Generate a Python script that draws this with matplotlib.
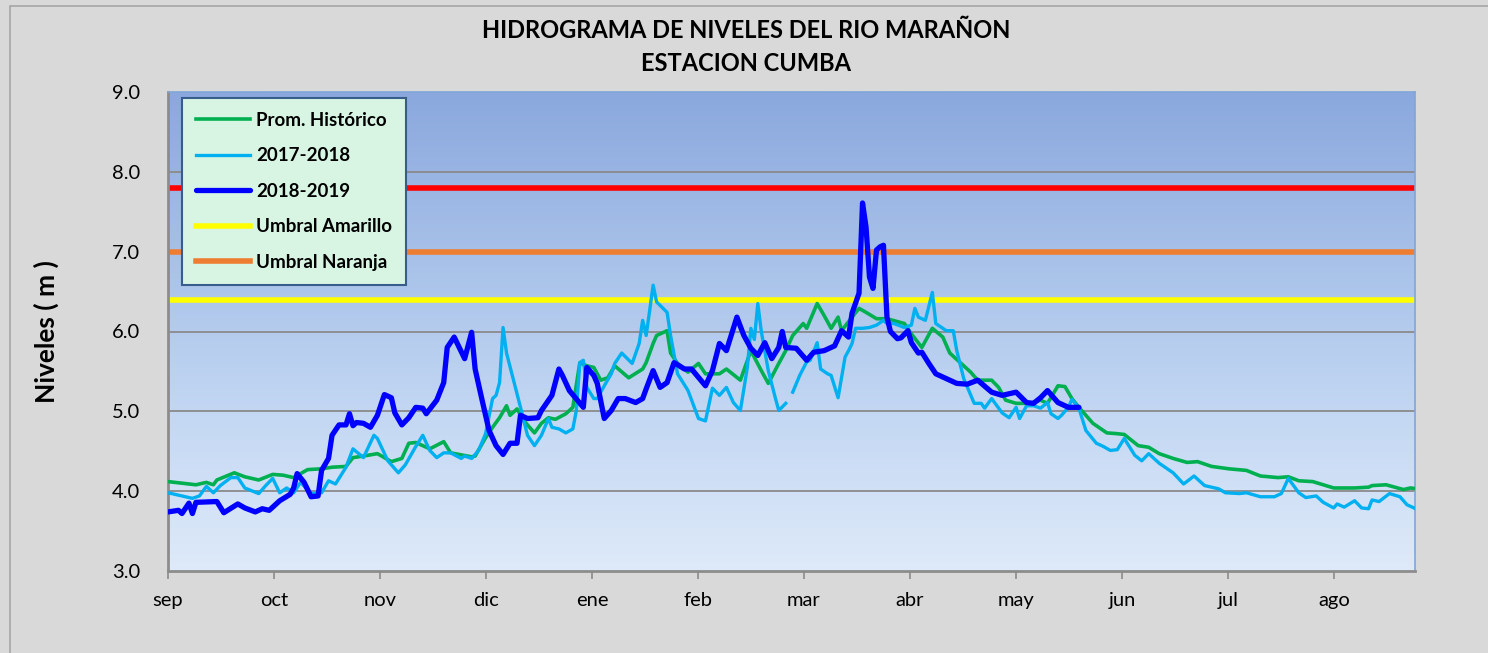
import matplotlib
matplotlib.use("Agg")
import matplotlib.pyplot as plt
import numpy as np
from matplotlib.colors import LinearSegmentedColormap
from matplotlib.patches import Rectangle

plt.rcParams['font.family'] = ['Lato', 'DejaVu Sans']

# meses del eje x (dias desde el 1 de septiembre, espaciado regular de Excel)
meses = ['sep', 'oct', 'nov', 'dic', 'ene', 'feb', 'mar', 'abr', 'may', 'jun', 'jul', 'ago']
mes_pos = [0, 30.4, 60.8, 91.1, 121.5, 151.9, 182.2, 212.6, 243.0, 273.4, 303.7, 334.1]

# Prom. Historico
hist_dias = [0, 8, 11, 13, 14, 19, 22, 26, 30, 33, 36, 40, 44, 47, 51, 53, 56, 60, 64, 67,
             69, 71, 75, 79, 81, 87, 88, 91, 93, 95, 97, 98, 100, 102, 105, 107, 109, 111, 114, 116,
             118, 120, 122, 124, 126, 128, 132, 136, 137, 139, 140, 143, 144, 146, 149, 152, 154, 158, 160, 164,
             167, 170, 172, 175, 177, 179, 182, 183, 186, 188, 190, 192, 193, 196, 198, 200, 203, 206, 211, 213,
             216, 219, 222, 224, 227, 230, 232, 236, 238, 240, 243, 247, 250, 252, 255, 257, 259, 261, 265, 269,
             272, 274, 278, 281, 284, 288, 292, 295, 299, 304, 309, 313, 318, 321, 324, 328, 334, 340, 344, 345,
             349, 354, 356, 358]
hist_niv = [4.12, 4.08, 4.11, 4.08, 4.14, 4.23, 4.18, 4.14, 4.21, 4.20, 4.17, 4.27, 4.28, 4.30, 4.31, 4.42, 4.44, 4.47, 4.37, 4.41,
            4.60, 4.61, 4.53, 4.62, 4.48, 4.43, 4.44, 4.67, 4.80, 4.92, 5.07, 4.95, 5.03, 4.88, 4.73, 4.85, 4.92, 4.90, 4.97, 5.05,
            5.61, 5.57, 5.55, 5.39, 5.42, 5.57, 5.42, 5.53, 5.61, 5.85, 5.95, 6.01, 5.73, 5.60, 5.49, 5.60, 5.47, 5.47, 5.53, 5.39,
            5.76, 5.51, 5.35, 5.60, 5.76, 5.95, 6.10, 6.04, 6.35, 6.20, 6.04, 6.18, 6.01, 6.18, 6.29, 6.24, 6.16, 6.16, 6.10, 5.97,
            5.80, 6.04, 5.93, 5.73, 5.61, 5.49, 5.39, 5.39, 5.30, 5.14, 5.10, 5.10, 5.14, 5.10, 5.32, 5.31, 5.16, 5.05, 4.85, 4.73,
            4.72, 4.71, 4.57, 4.55, 4.47, 4.41, 4.36, 4.37, 4.31, 4.28, 4.26, 4.19, 4.17, 4.18, 4.13, 4.12, 4.04, 4.04, 4.05, 4.07,
            4.08, 4.02, 4.04, 4.03]

# 2017-2018 (nan = dato faltante)
p1718_dias = [0, 7, 9, 11, 13, 15, 18, 20, 22, 26, 28, 30, 32, 34, 36, 38, 41, 44, 46, 48,
              51, 53, 56, 59, 60, 63, 66, 68, 71, 73, 75, 77, 79, 81, 84, 85, 87, 89, 91, 93,
              94, 95, 96, 97, 99, 101, 103, 105, 107, 109, 110, 112, 114, 116, 117, 118, 119, 120, 122, 123,
              125, 127, 128, 130, 133, 135, 136, 137, 138, 139, 140, 143, 144, 146, 149, 152, 154, 156, 158, 160,
              162, 164, 166, 167, 168, 169, 170, 172, 174, 175, 177, 178, 179, 181, 183, 184, 186, 187, 189, 190,
              192, 194, 195, 196, 197, 199, 201, 203, 205, 206, 208, 211, 213, 214, 215, 217, 219, 220, 223, 225,
              226, 228, 231, 233, 234, 236, 239, 241, 243, 244, 246, 248, 250, 252, 253, 255, 256, 258, 259, 261,
              263, 266, 268, 270, 272, 274, 277, 279, 281, 284, 288, 291, 294, 297, 301, 303, 307, 309, 313, 317,
              319, 321, 324, 326, 329, 331, 334, 335, 337, 340, 342, 344, 345, 347, 350, 353, 355, 357]
p1718_niv = [3.98, 3.91, 3.94, 4.06, 3.98, 4.07, 4.17, 4.17, 4.04, 3.97, 4.07, 4.16, 3.98, 4.04, 3.98, 4.11, 3.97, 3.98, 4.13, 4.09,
             4.30, 4.53, 4.42, 4.70, 4.66, 4.38, 4.23, 4.33, 4.56, 4.70, 4.51, 4.42, 4.48, 4.48, 4.41, 4.44, 4.41, 4.51, 4.72, 5.16,
             5.20, 5.36, 6.05, 5.73, 5.39, 5.05, 4.70, 4.57, 4.70, 4.91, 4.80, 4.78, 4.73, 4.78, 5.01, 5.61, 5.64, 5.30, 5.16, 5.16,
             5.32, 5.47, 5.60, 5.73, 5.60, 5.85, 6.14, 5.95, 6.26, 6.58, 6.37, 6.24, 5.95, 5.47, 5.26, 4.91, 4.88, 5.29, 5.20, 5.30,
             5.11, 5.01, 5.55, 6.04, 5.90, 6.35, 6.00, 5.51, 5.17, 5.01, 5.10, np.nan, 5.24, 5.45, 5.62, 5.64, 5.86, 5.53, 5.47, 5.45,
             5.17, 5.68, 5.76, 5.85, 6.04, 6.04, 6.05, 6.08, 6.14, 6.10, 6.10, 6.05, 6.08, 6.29, 6.18, 6.14, 6.49, 6.10, 6.01, 6.01,
             5.76, 5.41, 5.10, 5.10, 5.04, 5.16, 4.98, 4.92, 5.05, 4.91, 5.07, 5.07, 5.04, 5.11, 4.97, 4.91, 4.95, 5.05, 5.15, 5.04,
             4.76, 4.60, 4.56, 4.51, 4.52, 4.66, 4.45, 4.38, 4.47, 4.35, 4.23, 4.09, 4.19, 4.07, 4.03, 3.98, 3.97, 3.98, 3.93, 3.93,
             3.97, 4.16, 3.98, 3.92, 3.94, 3.86, 3.79, 3.84, 3.80, 3.88, 3.79, 3.78, 3.89, 3.87, 3.97, 3.93, 3.83, 3.79]

# 2018-2019
p1819_dias = [0, 3, 4, 6, 7, 8, 14, 16, 20, 22, 25, 27, 29, 32, 35, 36, 37, 39, 41, 43,
              44, 46, 47, 49, 51, 52, 53, 54, 56, 58, 60, 62, 64, 65, 67, 69, 71, 73, 74, 77,
              79, 80, 82, 85, 87, 88, 90, 92, 94, 96, 98, 100, 101, 103, 106, 107, 110, 112, 113, 115,
              119, 120, 122, 123, 125, 127, 129, 131, 134, 136, 137, 139, 141, 143, 145, 148, 150, 154, 156, 158,
              160, 163, 165, 167, 169, 171, 173, 175, 176, 177, 180, 183, 185, 188, 191, 193, 195, 196, 198, 199,
              200, 201, 202, 203, 204, 205, 206, 207, 209, 210, 212, 213, 215, 216, 218, 220, 223, 226, 229, 232,
              236, 239, 243, 246, 248, 250, 252, 255, 258, 261]
p1819_niv = [3.74, 3.76, 3.72, 3.85, 3.72, 3.86, 3.87, 3.73, 3.84, 3.79, 3.74, 3.78, 3.76, 3.88, 3.96, 4.04, 4.22, 4.11, 3.93, 3.94,
             4.26, 4.41, 4.70, 4.83, 4.83, 4.97, 4.82, 4.86, 4.85, 4.80, 4.95, 5.21, 5.17, 4.98, 4.83, 4.92, 5.05, 5.04, 4.97, 5.14,
             5.36, 5.80, 5.93, 5.66, 5.99, 5.53, 5.14, 4.76, 4.57, 4.46, 4.60, 4.60, 4.95, 4.91, 4.92, 5.01, 5.20, 5.53, 5.45, 5.26,
             5.05, 5.55, 5.45, 5.35, 4.91, 5.01, 5.16, 5.16, 5.11, 5.16, 5.28, 5.51, 5.30, 5.36, 5.61, 5.53, 5.53, 5.32, 5.51, 5.85,
             5.76, 6.18, 5.95, 5.79, 5.70, 5.86, 5.66, 5.80, 6.00, 5.80, 5.79, 5.64, 5.74, 5.76, 5.82, 6.01, 5.93, 6.23, 6.48, 7.61,
             7.31, 6.68, 6.54, 7.02, 7.06, 7.08, 6.18, 6.00, 5.91, 5.92, 6.01, 5.86, 5.73, 5.74, 5.60, 5.47, 5.41, 5.35, 5.34, 5.39,
             5.24, 5.20, 5.24, 5.11, 5.10, 5.17, 5.26, 5.11, 5.05, 5.05]

# umbrales
umbral_rojo = 7.8
umbral_naranja = 7.0
umbral_amarillo = 6.4

fig = plt.figure(figsize=(14.88, 6.53), dpi=100, facecolor='#d9d9d9')
# marco del grafico
fig.patches.append(Rectangle((10 / 1488, -0.1), 1.2, 1.1 - 6 / 653, transform=fig.transFigure,
                             fill=False, edgecolor='#a6a6a6', linewidth=1.2))

ax = fig.add_axes([168 / 1488, 1 - 571 / 653, (1415 - 168) / 1488, (571 - 92) / 653])

# fondo degradado del area de trazado
cmap = LinearSegmentedColormap.from_list('fondo', ['#deeaf9', '#c3d7f3', '#a6c0e8', '#8ba8de'])
grad = np.linspace(0, 1, 256).reshape(-1, 1)
ax.imshow(grad, extent=[0, 1, 0, 1], transform=ax.transAxes, aspect='auto',
          cmap=cmap, origin='lower', zorder=0)

for y in [4, 5, 6, 7, 8]:
    ax.axhline(y, color='#8a8a8a', linewidth=1.3, zorder=1)

ax.plot(hist_dias, hist_niv, color='#00b050', linewidth=2.6, label='Prom. Histórico', zorder=3)
ax.plot(p1718_dias, p1718_niv, color='#00b0f0', linewidth=2.4, label='2017-2018', zorder=3)
ax.plot(p1819_dias, p1819_niv, color='#0000ff', linewidth=3.8, label='2018-2019', zorder=4,
        solid_joinstyle='round', solid_capstyle='round')
ax.axhline(umbral_amarillo, color='#ffff00', linewidth=4, label='Umbral Amarillo', zorder=2)
ax.axhline(umbral_naranja, color='#ed7d31', linewidth=4, label='Umbral Naranja', zorder=2)
ax.axhline(umbral_rojo, color='#ff0000', linewidth=4, zorder=2)

ax.set_xlim(0, 357.3)
ax.set_ylim(3, 9)
ax.set_yticks([3, 4, 5, 6, 7, 8, 9])
ax.set_yticklabels(['%.1f' % v for v in [3, 4, 5, 6, 7, 8, 9]])
ax.set_xticks(mes_pos)
ax.set_xticklabels(meses)
ax.tick_params(axis='y', length=0, pad=20, labelsize=14.5)
ax.tick_params(axis='x', length=6, width=1.2, color='#8a8a8a', pad=9, labelsize=14.5)

for s in ['left', 'bottom']:
    ax.spines[s].set_color('#8c8c8c')
    ax.spines[s].set_linewidth(2)
for s in ['top', 'right']:
    ax.spines[s].set_color('#7fa6d8')
    ax.spines[s].set_linewidth(1.2)

ax.set_ylabel('Niveles ( m )', fontsize=19, fontweight='bold', labelpad=38)
fig.text(0.5015, 0.954, 'HIDROGRAMA DE NIVELES DEL RIO MARAÑON', ha='center', va='center',
         fontsize=17, fontweight='bold')
fig.text(0.5015, 0.902, 'ESTACION CUMBA', ha='center', va='center', fontsize=17, fontweight='bold')

leg = ax.legend(loc='upper left', bbox_to_anchor=(0.0112, 0.9875), frameon=True, fancybox=False,
                edgecolor='#385d8a', facecolor='#d8f5e4', framealpha=1, prop={'weight': 'bold', 'size': 13.5},
                labelspacing=0.98, handlelength=2.9, handletextpad=0.3, borderpad=0.75, borderaxespad=0)
leg.get_frame().set_linewidth(1.5)
leg.set_zorder(6)

fig.savefig('out.png', dpi=100, facecolor=fig.get_facecolor())
